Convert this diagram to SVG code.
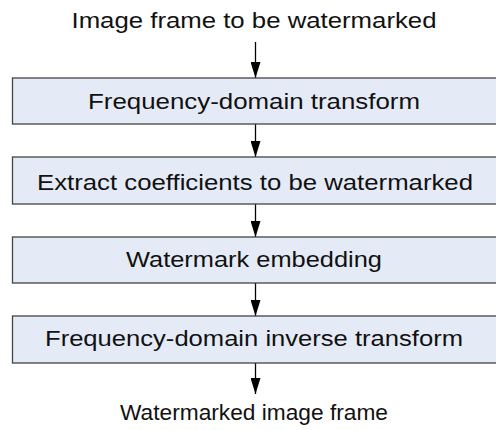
<svg xmlns="http://www.w3.org/2000/svg" width="496" height="430" viewBox="0 0 496 430">
<style>
.box{fill:#E5EBF6;stroke:#444;stroke-width:1.3}
.lbl{font-family:"Liberation Sans",Arial,sans-serif;font-size:22px;fill:#111;text-anchor:middle}
.conn{stroke:#000;stroke-width:1.3;fill:none}
</style>
<defs>
<marker id="ah" viewBox="0 0 16 10" refX="16" refY="5" markerWidth="16" markerHeight="10" markerUnits="userSpaceOnUse" orient="auto">
<path d="M0,0 L16,5 L0,10 Z" fill="#000"/>
</marker>
</defs>
<rect width="496" height="430" fill="#fff"/>
<g id="connectors">
<line class="conn" x1="255.5" y1="42" x2="255.5" y2="78" marker-end="url(#ah)"/>
<line class="conn" x1="255.5" y1="124" x2="255.5" y2="157" marker-end="url(#ah)"/>
<line class="conn" x1="255.5" y1="204" x2="255.5" y2="237" marker-end="url(#ah)"/>
<line class="conn" x1="255.5" y1="283" x2="255.5" y2="316" marker-end="url(#ah)"/>
<line class="conn" x1="255.5" y1="363" x2="255.5" y2="394" marker-end="url(#ah)"/>
</g>
<g id="input">
<text class="lbl" x="254" y="28" textLength="365" lengthAdjust="spacingAndGlyphs">Image frame to be watermarked</text>
</g>
<g id="step1">
<rect class="box" x="12.5" y="78" width="486" height="46"/>
<text class="lbl" x="254" y="108.5" textLength="332" lengthAdjust="spacingAndGlyphs">Frequency-domain transform</text>
</g>
<g id="step2">
<rect class="box" x="12.5" y="157" width="486" height="47"/>
<text class="lbl" x="255" y="190" textLength="436" lengthAdjust="spacingAndGlyphs">Extract coefficients to be watermarked</text>
</g>
<g id="step3">
<rect class="box" x="12.5" y="237" width="486" height="46"/>
<text class="lbl" x="254" y="267" textLength="256" lengthAdjust="spacingAndGlyphs">Watermark embedding</text>
</g>
<g id="step4">
<rect class="box" x="12.5" y="316" width="486" height="47"/>
<text class="lbl" x="254" y="346" textLength="418" lengthAdjust="spacingAndGlyphs">Frequency-domain inverse transform</text>
</g>
<g id="output">
<text class="lbl" x="254" y="420" textLength="268" lengthAdjust="spacingAndGlyphs">Watermarked image frame</text>
</g>
</svg>
